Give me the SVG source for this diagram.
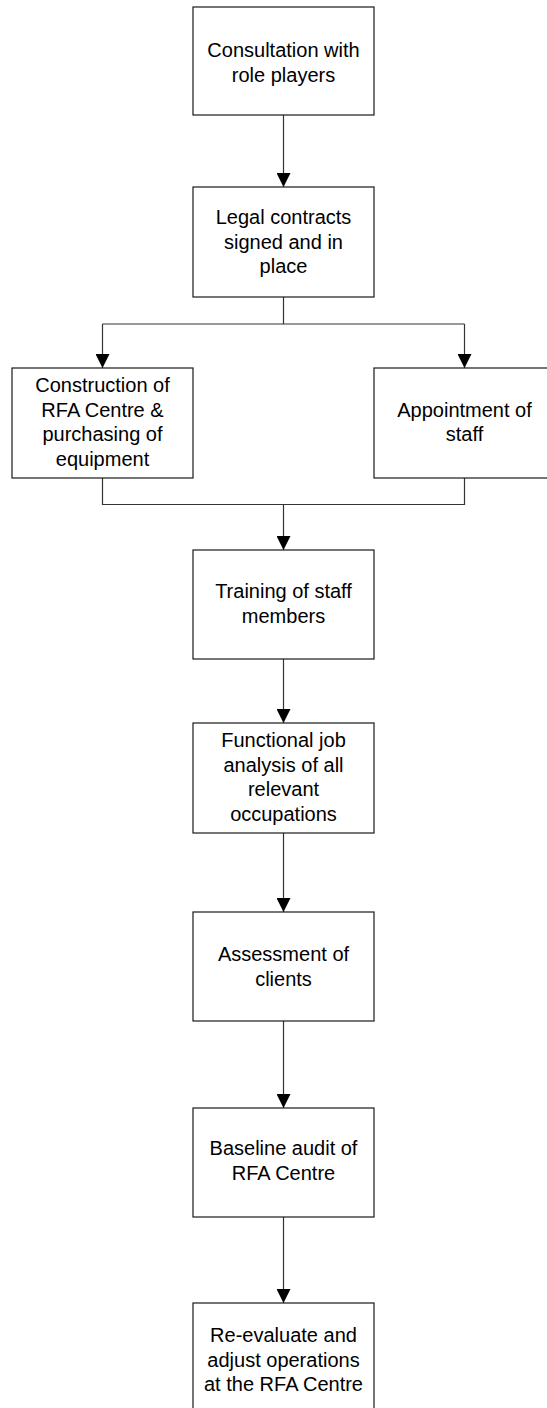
<svg xmlns="http://www.w3.org/2000/svg" width="547" height="1408" viewBox="0 0 547 1408">
<style>
.box{fill:#fff;stroke:#1a1a1a;stroke-width:1.2}
.lbl{font-family:"Liberation Sans",Arial,sans-serif;font-size:20px;fill:#000;text-anchor:middle}
.wire{fill:none;stroke:#333;stroke-width:1.2}
</style>
<defs>
<marker id="arr" markerWidth="14" markerHeight="14" refX="14" refY="7" orient="auto" markerUnits="userSpaceOnUse">
<path d="M0,0 L14,7 L0,14 Z" fill="#000"/>
</marker>
</defs>
<rect width="547" height="1408" fill="#fff"/>
<g id="connectors">
<line class="wire" x1="283.5" y1="115" x2="283.5" y2="187" marker-end="url(#arr)"/>
<path class="wire" d="M283.5,297 V324 M102.5,324 H464.5"/>
<line class="wire" x1="102.5" y1="324" x2="102.5" y2="368" marker-end="url(#arr)"/>
<line class="wire" x1="464.5" y1="324" x2="464.5" y2="368" marker-end="url(#arr)"/>
<path class="wire" d="M102.5,478 V504.5 H464.5 V478"/>
<line class="wire" x1="283.5" y1="504.5" x2="283.5" y2="550" marker-end="url(#arr)"/>
<line class="wire" x1="283.5" y1="659" x2="283.5" y2="723" marker-end="url(#arr)"/>
<line class="wire" x1="283.5" y1="833" x2="283.5" y2="912" marker-end="url(#arr)"/>
<line class="wire" x1="283.5" y1="1021" x2="283.5" y2="1108" marker-end="url(#arr)"/>
<line class="wire" x1="283.5" y1="1217" x2="283.5" y2="1303" marker-end="url(#arr)"/>
</g>
<g id="consultation">
<rect class="box" x="193" y="7" width="181" height="108"/>
<text class="lbl" x="283.5" y="57">Consultation with</text>
<text class="lbl" x="283.5" y="82">role players</text>
</g>
<g id="legal">
<rect class="box" x="193" y="187" width="181" height="110"/>
<text class="lbl" x="283.5" y="224">Legal contracts</text>
<text class="lbl" x="283.5" y="248.5">signed and in</text>
<text class="lbl" x="283.5" y="273">place</text>
</g>
<g id="construction">
<rect class="box" x="12" y="368" width="181" height="110"/>
<text class="lbl" x="102.5" y="392">Construction of</text>
<text class="lbl" x="102.5" y="416.5">RFA Centre &amp;</text>
<text class="lbl" x="102.5" y="441">purchasing of</text>
<text class="lbl" x="102.5" y="465.5">equipment</text>
</g>
<g id="appointment">
<rect class="box" x="374" y="368" width="181" height="110"/>
<text class="lbl" x="464.5" y="416.5">Appointment of</text>
<text class="lbl" x="464.5" y="441">staff</text>
</g>
<g id="training">
<rect class="box" x="193" y="550" width="181" height="109"/>
<text class="lbl" x="283.5" y="598">Training of staff</text>
<text class="lbl" x="283.5" y="622.5">members</text>
</g>
<g id="functional">
<rect class="box" x="193" y="723" width="181" height="110"/>
<text class="lbl" x="283.5" y="747">Functional job</text>
<text class="lbl" x="283.5" y="771.5">analysis of all</text>
<text class="lbl" x="283.5" y="796">relevant</text>
<text class="lbl" x="283.5" y="820.5">occupations</text>
</g>
<g id="assessment">
<rect class="box" x="193" y="912" width="181" height="109"/>
<text class="lbl" x="283.5" y="961">Assessment of</text>
<text class="lbl" x="283.5" y="985.5">clients</text>
</g>
<g id="baseline">
<rect class="box" x="193" y="1108" width="181" height="109"/>
<text class="lbl" x="283.5" y="1155">Baseline audit of</text>
<text class="lbl" x="283.5" y="1179.5">RFA Centre</text>
</g>
<g id="reevaluate">
<rect class="box" x="193" y="1303" width="181" height="109"/>
<text class="lbl" x="283.5" y="1342">Re-evaluate and</text>
<text class="lbl" x="283.5" y="1366.5">adjust operations</text>
<text class="lbl" x="283.5" y="1391">at the RFA Centre</text>
</g>
</svg>
